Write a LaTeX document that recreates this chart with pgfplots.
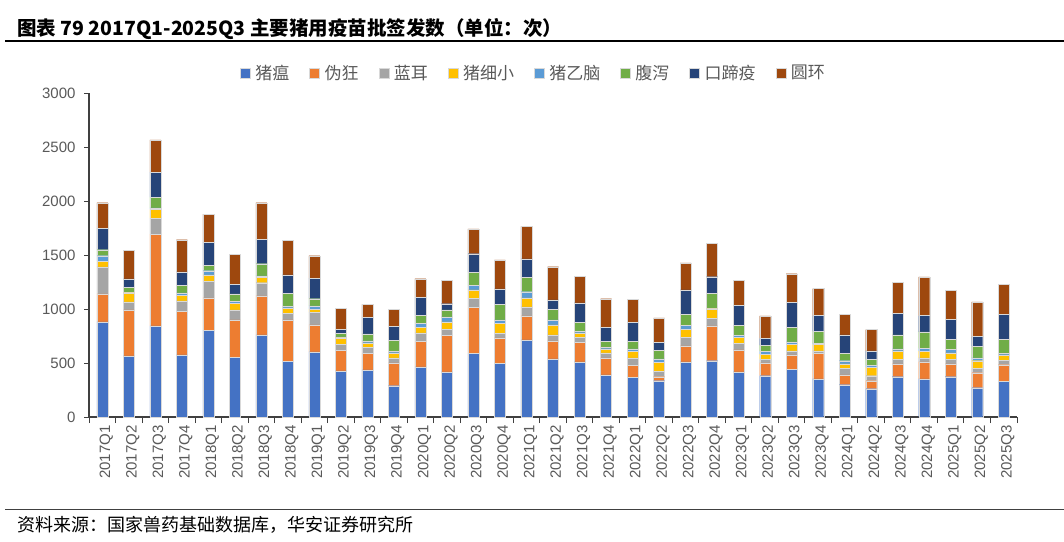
\documentclass[border=0pt]{standalone}
\usepackage{fontspec}
\setmainfont{Liberation Sans}
\newfontfamily\cjk{Noto Sans CJK SC}
\usepackage{pgfplots}
\usepackage{pgfplotstable}
\pgfplotsset{compat=1.18}
\definecolor{cA}{HTML}{4472C4}
\definecolor{cB}{HTML}{ED7D31}
\definecolor{cC}{HTML}{A5A5A5}
\definecolor{cD}{HTML}{FFC000}
\definecolor{cE}{HTML}{5B9BD5}
\definecolor{cF}{HTML}{70AD47}
\definecolor{cG}{HTML}{264478}
\definecolor{cH}{HTML}{9E480E}
\definecolor{txt}{HTML}{595959}
\definecolor{axc}{HTML}{404040}
\pgfplotstableread{
x a b c d e f g h
0 881 259 249 52 53 55 200 235
1 567 425 74 83 6 46 77 265
2 844 850 148 80 15 99 231 299
3 576 403 96 52 22 68 126 299
4 804 299 151 61 40 49 216 259
5 554 345 93 61 19 68 86 280
6 761 360 123 47 15 114 225 339
7 514 385 62 49 16 117 172 320
8 604 249 117 28 31 67 191 207
9 428 191 56 58 9 34 37 194
10 437 151 56 43 18 65 154 120
11 290 212 46 46 16 98 133 157
12 465 234 80 53 33 77 167 172
13 419 336 55 71 46 65 58 213
14 588 425 87 77 40 123 172 231
15 496 237 40 92 34 145 142 268
16 715 221 83 84 58 133 169 302
17 539 166 56 92 46 96 89 308
18 511 182 46 40 16 83 178 247
19 391 157 46 37 13 55 130 267
20 370 107 71 62 21 71 173 215
21 336 37 49 83 34 77 77 225
22 511 148 77 77 34 105 225 249
23 521 323 68 89 6 136 157 308
24 419 203 59 58 16 92 185 231
25 382 120 31 49 25 58 62 209
26 440 136 37 58 25 136 228 267
27 354 234 25 58 13 108 147 250
28 299 92 59 43 28 67 173 191
29 262 74 46 80 15 59 77 197
30 373 120 40 80 18 130 197 289
31 354 157 37 62 24 154 151 358
32 373 120 43 58 34 93 181 271
33 271 139 40 71 27 105 92 321
34 330 154 40 52 15 130 228 277
}\datatable
\begin{document}
\begin{tikzpicture}[x=1pt,y=1pt]
\path[use as bounding box] (0,0) rectangle (1064,541);
\node[anchor=west,inner sep=0pt,font=\cjk\bfseries\fontsize{19.5}{21}\selectfont] at (17,512) {图表 79 2017Q1-2025Q3 主要猪用疫苗批签发数（单位：次）};
\draw[black,line width=1.4pt] (5,500) -- (1064,500);
\draw[axc,line width=0.9pt] (5,32) -- (1064,32);
\node[anchor=west,inner sep=0pt,font=\cjk\fontsize{18}{19}\selectfont] at (17,16) {资料来源：国家兽药基础数据库，华安证券研究所};
\begin{axis}[
  at={(89pt,124pt)}, anchor=south west,
  scale only axis, width=928pt, height=324pt,
  ybar stacked, bar width=11pt,
  xmin=-0.5, xmax=34.5, ymin=0, ymax=3000,
  axis x line*=bottom, axis y line*=left,
  axis line style={axc,line width=1.2pt},
  xtick={0,...,34},
  xticklabels={2017Q1,2017Q2,2017Q3,2017Q4,2018Q1,2018Q2,2018Q3,2018Q4,2019Q1,2019Q2,2019Q3,2019Q4,2020Q1,2020Q2,2020Q3,2020Q4,2021Q1,2021Q2,2021Q3,2021Q4,2022Q1,2022Q2,2022Q3,2022Q4,2023Q1,2023Q2,2023Q3,2023Q4,2024Q1,2024Q2,2024Q3,2024Q4,2025Q1,2025Q2,2025Q3},
  major x tick style={draw=none},
  minor xtick={-0.5,0.5,...,34.5},
  minor x tick style={axc,line width=1pt},
  minor tick length=6pt,
  ytick={0,500,...,3000},
  y tick style={axc,line width=1pt},
  major tick length=5pt,
  tick align=outside,
  xticklabel style={rotate=90,anchor=east,font=\fontsize{15}{15}\selectfont,text=txt,yshift=-4pt},
  yticklabel style={font=\fontsize{15}{15}\selectfont,text=txt,xshift=-5pt},
  /pgf/number format/assume math mode=true,
  scaled y ticks=false,
  y tick label style={/pgf/number format/1000 sep={}},
  legend style={draw=none,fill=none,at={(0.478,1.062)},anchor=center,
    font=\cjk\fontsize{17}{17}\selectfont,text=txt,
    nodes={inner sep=0pt},
    /tikz/every odd column/.append style={column sep=5pt},
    /tikz/every even column/.append style={column sep=20pt},
    legend cell align=left},
  legend columns=8,
  legend image code/.code={\fill[#1] (0pt,-5pt) rectangle (10pt,5pt);},
  every axis plot/.append style={draw=white!85!black,line width=0.2pt},
]
\addplot[fill=cA] table[x=x,y=a] {\datatable};
\addplot[fill=cB] table[x=x,y=b] {\datatable};
\addplot[fill=cC] table[x=x,y=c] {\datatable};
\addplot[fill=cD] table[x=x,y=d] {\datatable};
\addplot[fill=cE] table[x=x,y=e] {\datatable};
\addplot[fill=cF] table[x=x,y=f] {\datatable};
\addplot[fill=cG] table[x=x,y=g] {\datatable};
\addplot[fill=cH] table[x=x,y=h] {\datatable};
\legend{猪瘟,伪狂,蓝耳,猪细小,猪乙脑,腹泻,口蹄疫,圆环}
\end{axis}
\end{tikzpicture}
\end{document}
